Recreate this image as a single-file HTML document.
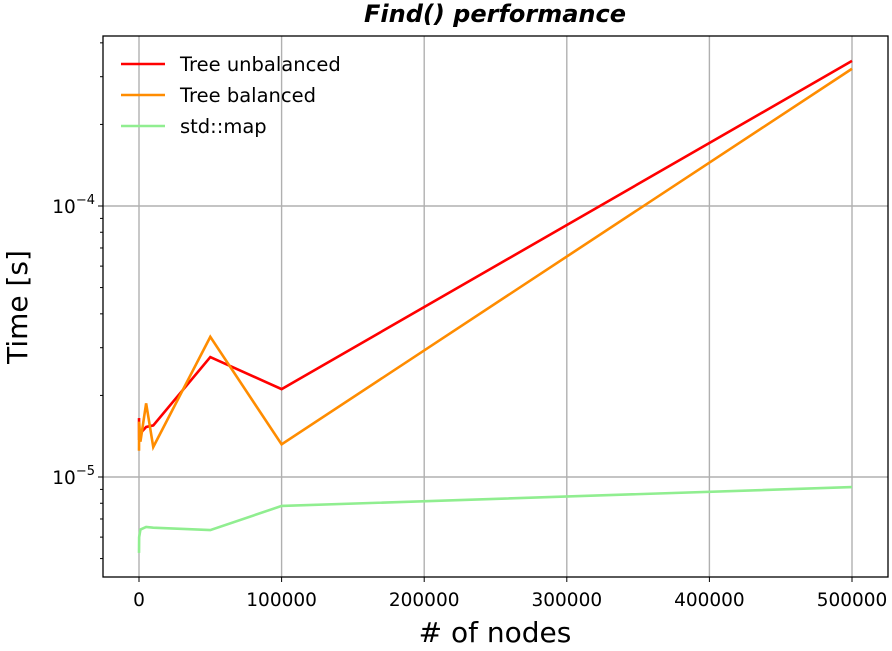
<!DOCTYPE html>
<html><head><meta charset="utf-8"><style>
body{margin:0;background:#fff;}
svg text{font-family:"DejaVu Sans","Liberation Sans",sans-serif;}
</style></head><body>
<svg id="c" width="892" height="646" xmlns="http://www.w3.org/2000/svg"></svg>
<script>
const xs=[10,100,1000,5000,10000,50000,100000,500000];
const redVals=[1.65e-5,1.37e-5,1.45e-5,1.53e-5,1.55e-5,2.77e-5,2.11e-5,3.43e-4];
const orangeVals=[1.25e-5,1.6e-5,1.35e-5,1.87e-5,1.29e-5,3.29e-5,1.32e-5,3.21e-4];
const greenVals=[5.25e-6,6.0e-6,6.4e-6,6.54e-6,6.5e-6,6.37e-6,7.82e-6,9.18e-6];
const xTicks=[0,100000,200000,300000,400000,500000];
const seriesNames=["Tree unbalanced","Tree balanced","std::map"];
const L=103,R=888,T=36,B=577;
const X=v=>139+v*(852-139)/500000;
const Y=v=>206-(Math.log10(v)+4)*271;
const svg=document.getElementById('c');
const NS='http://www.w3.org/2000/svg';
function mk(tag,attrs,parent){const e=document.createElementNS(NS,tag);for(const k in attrs)e.setAttribute(k,attrs[k]);(parent||svg).appendChild(e);return e;}
xTicks.forEach(t=>{const g=mk('line',{x1:X(t),x2:X(t),y1:T,y2:B,stroke:'#b0b0b0','stroke-width':1.4});

});
[1e-5,1e-4].forEach(t=>{const g=mk('line',{x1:L,x2:R,y1:Y(t),y2:Y(t),stroke:'#b0b0b0','stroke-width':1.4});

});
const cols=['#ff0000','#ff8c00','#90ee90'];
[redVals,orangeVals,greenVals].forEach((vals,i)=>{
const p=mk('polyline',{points:xs.map((x,j)=>X(x)+','+Y(vals[j])).join(' '),fill:'none',stroke:cols[i],'stroke-width':2.6,'stroke-linejoin':'miter'});

});
const f=mk('rect',{x:L,y:T,width:R-L,height:B-T,fill:'none',stroke:'#000','stroke-width':1.3});


xTicks.forEach(t=>{mk('line',{x1:X(t),x2:X(t),y1:B,y2:B+5,stroke:'#000','stroke-width':1});
const tx=mk('text',{x:X(t),y:B+29,'text-anchor':'middle','font-size':18.5});tx.textContent=t;

});
for(let e=-6;e<=-3;e++){for(let m=1;m<10;m++){const v=m*Math.pow(10,e);const y=Y(v);if(y<T-0.5||y>B+0.5)continue;
mk('line',{x1:L-(m==1?5:3),x2:L,y1:y,y2:y,stroke:'#000','stroke-width':1});
if(m==1){const tx=mk('text',{x:L-8,y:y+7,'text-anchor':'end','font-size':18.5});tx.innerHTML='10<tspan dy="-9" font-size="13">−'+(-e)+'</tspan>';

}}}
let t=mk('text',{x:495,y:22,'text-anchor':'middle','font-size':24,'font-weight':'bold','font-style':'italic'});t.textContent='Find() performance';


t=mk('text',{x:495,y:642,'text-anchor':'middle','font-size':28});t.textContent='# of nodes';


t=mk('text',{x:0,y:0,'text-anchor':'middle','font-size':28,transform:'translate(27,307) rotate(-90)'});t.textContent='Time [s]';


seriesNames.forEach((n,i)=>{const y=64+i*31;
const g=mk('g',{});


mk('line',{x1:121,x2:165,y1:y,y2:y,stroke:cols[i],'stroke-width':2.6},g);
const tx=mk('text',{x:180,y:y+7,'font-size':19.5},g);tx.textContent=n;});
</script>
</body></html>
